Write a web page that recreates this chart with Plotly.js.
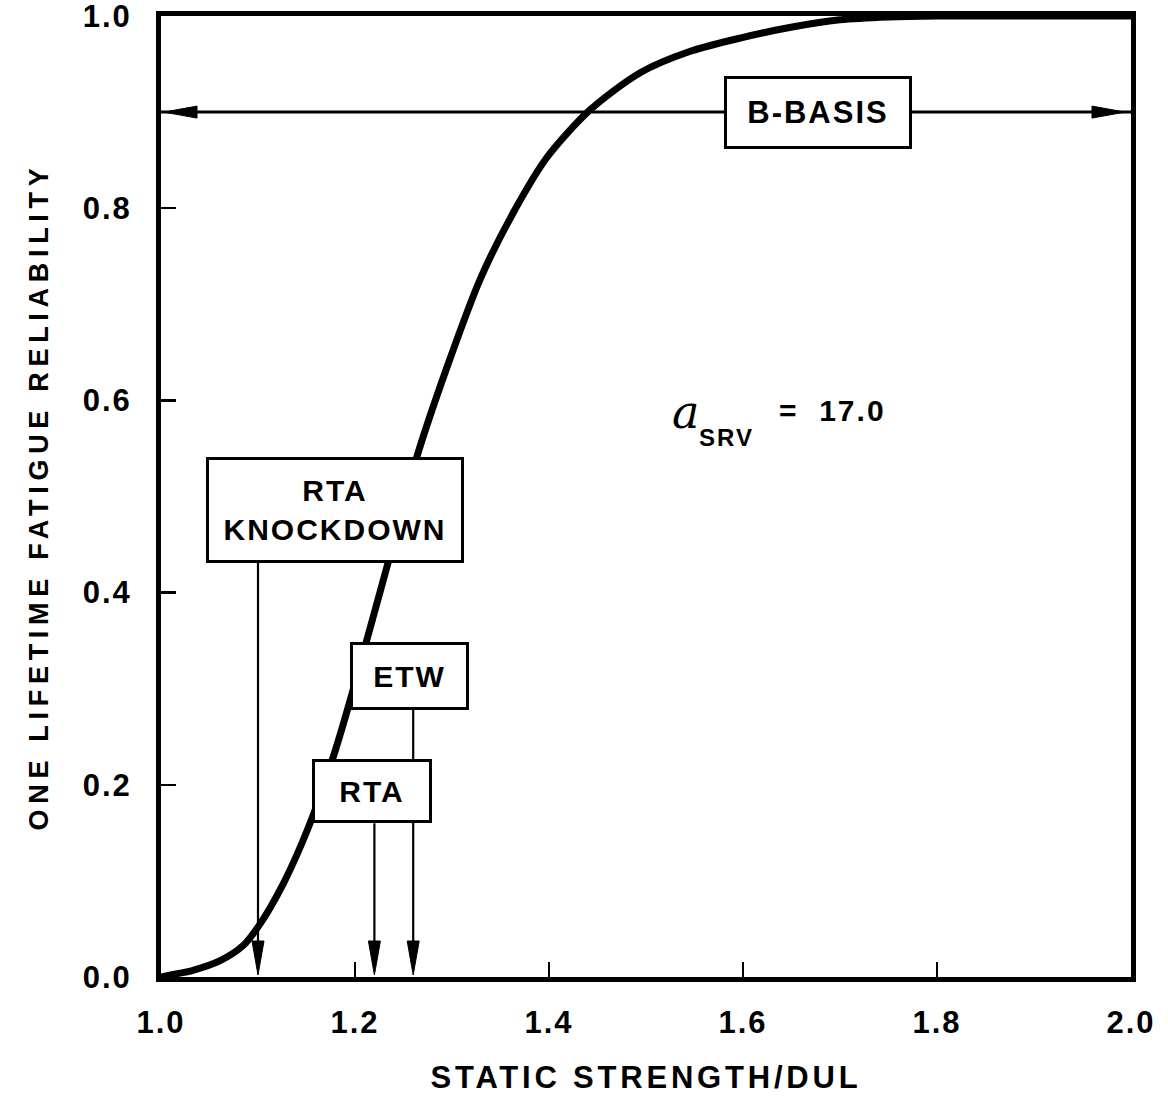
<!DOCTYPE html>
<html>
<head>
<meta charset="utf-8">
<script src="https://cdn.plot.ly/plotly-3.0.1.min.js"></script>
<style>
  html, body { margin: 0; padding: 0; background: #ffffff; }
  #chart { width: 1168px; height: 1096px; }
  .xtitle { letter-spacing: 3.8px; }
  .ytitle { letter-spacing: 5.7px; }
  .xtick text, .ytick text { letter-spacing: 2px; }
  .annotation-text { letter-spacing: 2px; }
</style>
</head>
<body>
<div id="chart"></div>
<script>
// ---- data ----
const strength = [1.000, 1.009, 1.033, 1.061, 1.085, 1.102, 1.126, 1.146, 1.164, 1.181, 1.197, 1.212, 1.233, 1.264, 1.295, 1.329, 1.363, 1.398, 1.442, 1.494, 1.545, 1.597, 1.648, 1.700, 1.750, 1.800, 1.900, 2.000];
const reliability = [0.000, 0.002, 0.007, 0.017, 0.033, 0.055, 0.097, 0.141, 0.188, 0.240, 0.295, 0.350, 0.427, 0.542, 0.635, 0.726, 0.795, 0.853, 0.902, 0.941, 0.963, 0.977, 0.988, 0.996, 0.999, 1.000, 1.000, 1.000];

const bBasisLevel = 0.9;
const arrowLabels = ['RTA<br>KNOCKDOWN', 'RTA', 'ETW'];
const arrowStrength = [1.10, 1.22, 1.26];
const xTickVals = [1.0, 1.2, 1.4, 1.6, 1.8, 2.0];
const yTickVals = [0.0, 0.2, 0.4, 0.6, 0.8, 1.0];

// ---- layout helpers (positions/styles only) ----
const FONT = 'Liberation Sans, Arial, Helvetica, sans-serif';
const boxes = [
  {label: arrowLabels[0], x: 1.1794, y: 0.486, w: 252, h: 100, lineTop: 0.431},
  {label: arrowLabels[1], x: 1.2175, y: 0.1935, w: 114, h: 58, lineTop: 0.160},
  {label: arrowLabels[2], x: 1.2557, y: 0.3132, w: 113, h: 62, lineTop: 0.278}
];

const shapes = [];
const annotations = [];

// B-basis double arrow
shapes.push({type: 'line', xref: 'x', yref: 'y', x0: xTickVals[0], x1: xTickVals[xTickVals.length - 1], y0: bBasisLevel, y1: bBasisLevel,
  line: {color: '#000', width: 3}});
shapes.push({type: 'path', xref: 'x', yref: 'y', xsizemode: 'pixel', ysizemode: 'pixel',
  xanchor: xTickVals[0], yanchor: bBasisLevel, path: 'M3,0 L36,6 L36,-6 Z', fillcolor: '#000', line: {color: '#000', width: 1}});
shapes.push({type: 'path', xref: 'x', yref: 'y', xsizemode: 'pixel', ysizemode: 'pixel',
  xanchor: xTickVals[xTickVals.length - 1], yanchor: bBasisLevel, path: 'M-6,0 L-39,6 L-39,-6 Z', fillcolor: '#000', line: {color: '#000', width: 1}});
annotations.push({xref: 'x', yref: 'y', x: 1.6773, y: bBasisLevel, text: 'B-BASIS', showarrow: false,
  font: {family: FONT, size: 31, color: '#000', weight: 'bold'}, bgcolor: '#fff', bordercolor: '#000', borderwidth: 3, borderpad: 0,
  width: 182, height: 67});

// knockdown / RTA / ETW arrows and boxes
boxes.forEach((b, i) => {
  const xs = arrowStrength[i];
  shapes.push({type: 'line', xref: 'x', yref: 'y', x0: xs, x1: xs, y0: b.lineTop, y1: 0.02,
    line: {color: '#000', width: 2.2}});
  shapes.push({type: 'path', xref: 'x', yref: 'y', xsizemode: 'pixel', ysizemode: 'pixel',
    xanchor: xs, yanchor: 0, path: 'M0,2 L-6,36 L6,36 Z', fillcolor: '#000', line: {color: '#000', width: 1}});
});
boxes.forEach((b) => {
  annotations.push({xref: 'x', yref: 'y', x: b.x, y: b.y, text: b.label, showarrow: false,
    font: {family: FONT, size: 30, color: '#000', weight: 'bold'}, bgcolor: '#fff', bordercolor: '#000', borderwidth: 3, borderpad: 0,
    width: b.w, height: b.h, align: 'center'});
});

// alpha_SRV label
annotations.push({xref: 'x', yref: 'y', x: 1.542, y: 0.588, text: '<i>a</i>', showarrow: false,
  font: {family: 'DejaVu Serif, Liberation Serif, serif', size: 46, color: '#000'}});
annotations.push({xref: 'x', yref: 'y', x: 1.5835, y: 0.561, text: 'SRV', showarrow: false,
  font: {family: FONT, size: 24, color: '#000', weight: 'bold'}});
annotations.push({xref: 'x', yref: 'y', x: 1.692, y: 0.589, text: '=&nbsp;&nbsp;17.0', showarrow: false,
  font: {family: FONT, size: 30, color: '#000', weight: 'bold'}});

const trace = {
  x: strength, y: reliability, type: 'scatter', mode: 'lines',
  line: {color: '#000', width: 7, shape: 'spline', smoothing: 0.8},
  hoverinfo: 'skip', showlegend: false
};

const axisCommon = {
  showline: true, mirror: true, linecolor: '#000', linewidth: 5,
  ticks: 'inside', ticklen: 15, tickwidth: 2.5, tickcolor: '#000',
  showgrid: false, zeroline: false, tickformat: '.1f', ticklabeloverflow: 'allow',
  tickfont: {family: FONT, size: 31, color: '#000', weight: 'bold'}
};

const layout = {
  width: 1168, height: 1096,
  margin: {l: 161, r: 37, t: 16, b: 119},
  paper_bgcolor: '#fff', plot_bgcolor: '#fff',
  showlegend: false,
  xaxis: Object.assign({}, axisCommon, {
    range: [1.0, 2.0], tickvals: xTickVals, ticklabelstandoff: 14,
    title: {text: 'STATIC STRENGTH/DUL', font: {family: FONT, size: 31, color: '#000', weight: 'bold'}, standoff: 29}
  }),
  yaxis: Object.assign({}, axisCommon, {
    range: [0.0, 1.0], tickvals: yTickVals, ticklabelstandoff: 18,
    title: {text: 'ONE LIFETIME FATIGUE RELIABILITY', font: {family: FONT, size: 27, color: '#000', weight: 'bold'}, standoff: 28}
  }),
  shapes: shapes,
  annotations: annotations
};

Plotly.newPlot('chart', [trace], layout, {displayModeBar: false, staticPlot: true});
</script>
</body>
</html>
